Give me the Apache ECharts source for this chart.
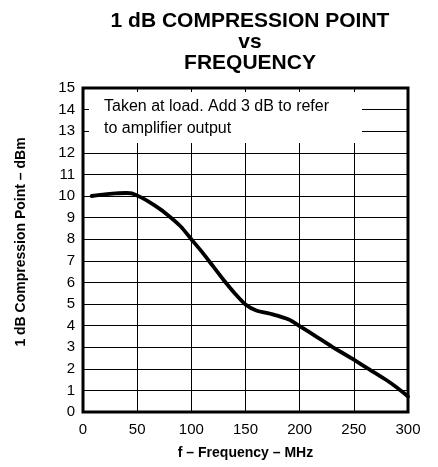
<!DOCTYPE html>
<html>
<head>
<meta charset="utf-8">
<script src="https://cdn.jsdelivr.net/npm/echarts@6/dist/echarts.min.js"></script>
<style>
  html, body { margin: 0; padding: 0; background: #fff; }
  #chart { width: 438px; height: 467px; }
</style>
</head>
<body>
<div id="chart"></div>
<script>
// Frequency in MHz and measured 1 dB compression point in dBm
const freqMHz = [8, 20, 30, 40, 45, 55, 65, 75, 90, 100, 110, 120, 130, 140, 150, 160, 175, 190, 200, 215, 230, 250, 265, 280, 290, 300];
const p1dB    = [10.0, 10.08, 10.12, 10.14, 10.12, 9.9, 9.6, 9.25, 8.6, 8.0, 7.4, 6.75, 6.1, 5.5, 4.98, 4.7, 4.52, 4.28, 3.98, 3.5, 3.02, 2.42, 1.95, 1.48, 1.12, 0.72];

const xTicks = [0, 50, 100, 150, 200, 250, 300];
const yTicks = [0, 1, 2, 3, 4, 5, 6, 7, 8, 9, 10, 11, 12, 13, 14, 15];

const titleText = '1 dB COMPRESSION POINT\nvs\nFREQUENCY';
const xName = 'f \u2013 Frequency \u2013 MHz';
const yName = '1 dB Compression Point \u2013 dBm';
const noteText = 'Taken at load. Add 3 dB to refer\nto amplifier output';

const FONT = '"Liberation Sans", Arial, Helvetica, sans-serif';

const chart = echarts.init(document.getElementById('chart'), null, { renderer: 'canvas' });

const grid = { left: 83, right: 30, top: 88, bottom: 55 };

chart.setOption({
  animation: false,
  backgroundColor: '#fff',
  textStyle: { fontFamily: FONT, color: '#000' },
  title: {
    text: titleText,
    left: 245,
    top: 6,
    textAlign: 'center',
    textStyle: { fontFamily: FONT, fontWeight: 'bold', fontSize: 21, lineHeight: 21, color: '#000' }
  },
  grid: {
    left: grid.left, right: grid.right, top: grid.top, bottom: grid.bottom,
    show: true, borderColor: '#000', borderWidth: 3, backgroundColor: 'transparent'
  },
  xAxis: {
    type: 'value',
    min: xTicks[0],
    max: xTicks[xTicks.length - 1],
    interval: xTicks[1] - xTicks[0],
    name: xName,
    nameLocation: 'middle',
    nameGap: 34,
    nameTextStyle: { fontFamily: FONT, fontWeight: 'bold', fontSize: 14, color: '#000' },
    axisLine: { show: false },
    axisTick: { show: false },
    axisLabel: { fontFamily: FONT, fontSize: 15, color: '#000', margin: 10 },
    splitLine: { show: true, lineStyle: { color: '#000', width: 1 } }
  },
  yAxis: {
    type: 'value',
    min: yTicks[0],
    max: yTicks[yTicks.length - 1],
    interval: yTicks[1] - yTicks[0],
    name: yName,
    nameLocation: 'middle',
    nameGap: 55,
    nameTextStyle: { fontFamily: FONT, fontWeight: 'bold', fontSize: 14, color: '#000', padding: [0, 0, 0, 16] },
    axisLine: { show: false },
    axisTick: { show: false },
    axisLabel: { fontFamily: FONT, fontSize: 15, color: '#000', margin: 8 },
    splitLine: { show: true, lineStyle: { color: '#000', width: 1 } }
  },
  graphic: [
    {
      type: 'rect',
      z: 10,
      shape: { x: 89, y: 92, width: 273, height: 51 },
      style: { fill: '#fff' },
      silent: true
    },
    {
      type: 'text',
      z: 11,
      x: 104,
      y: 96,
      style: {
        text: noteText,
        fontFamily: FONT,
        fontSize: 16,
        lineHeight: 22,
        fill: '#000'
      },
      silent: true
    }
  ],
  series: [
    {
      type: 'line',
      data: freqMHz.map((f, i) => [f, p1dB[i]]),
      symbol: 'none',
      smooth: 0.2,
      lineStyle: { color: '#000', width: 3.8, cap: 'round', join: 'round' },
      z: 5
    }
  ]
});
</script>
</body>
</html>
